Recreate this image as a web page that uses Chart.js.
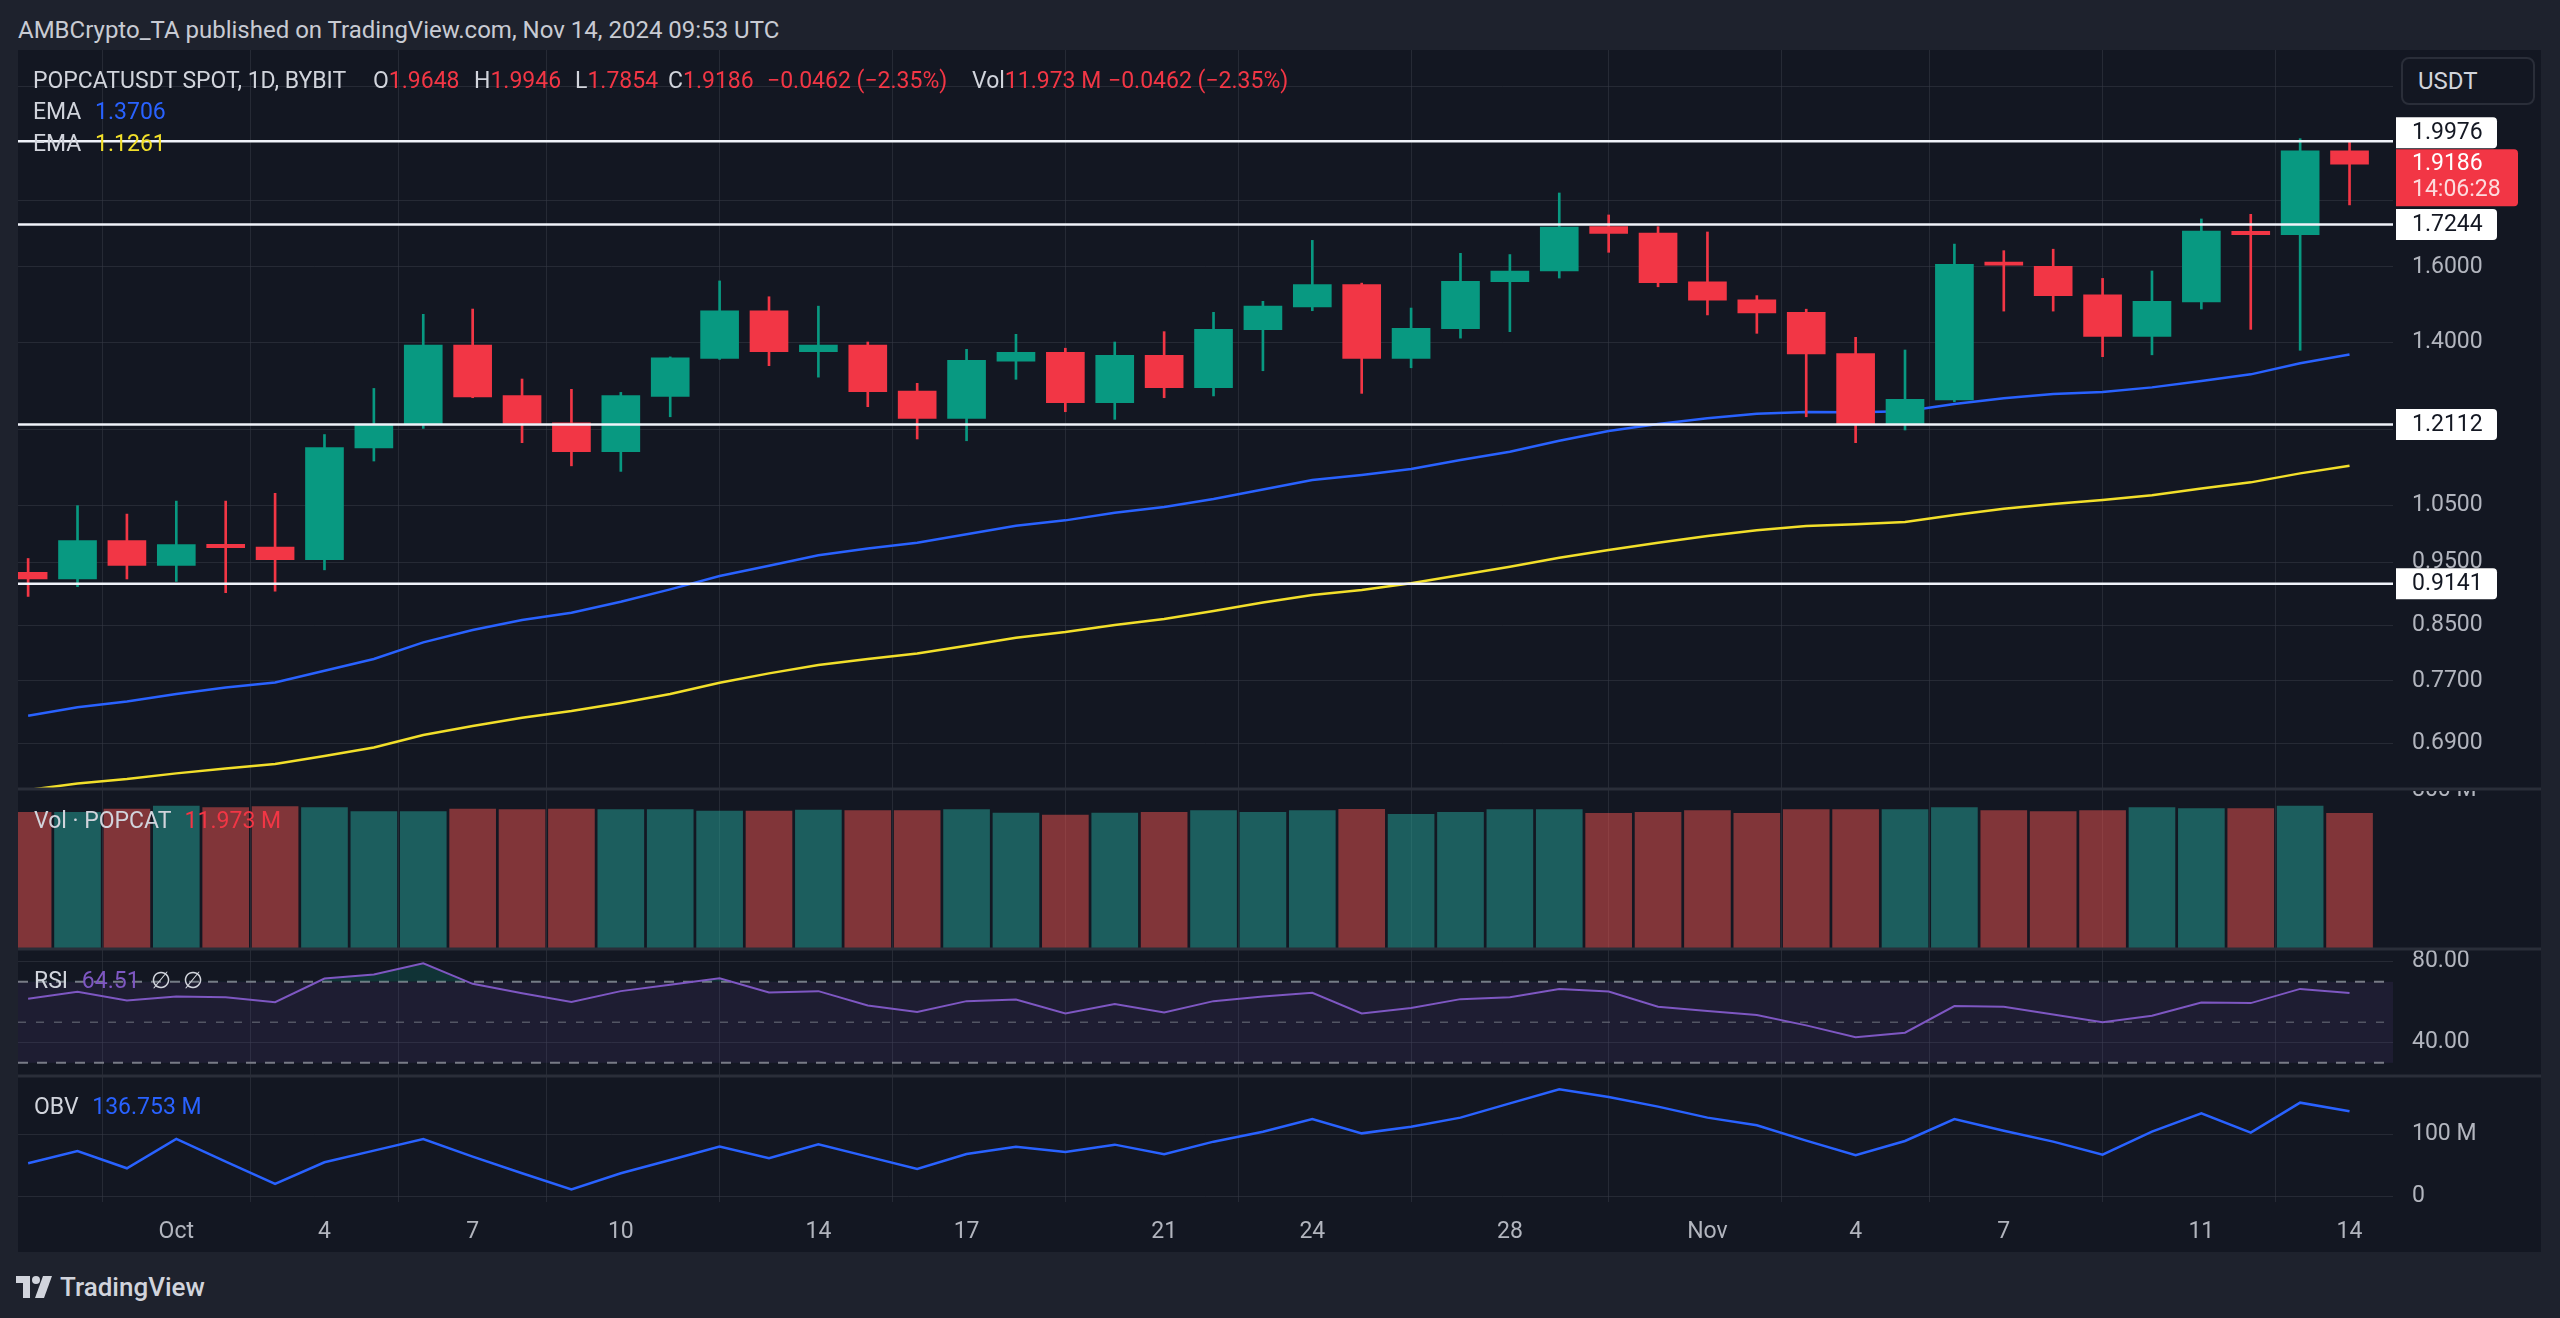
<!DOCTYPE html>
<html>
<head>
<meta charset="utf-8">
<script src="https://cdn.jsdelivr.net/npm/chart.js@4.4.1/dist/chart.umd.min.js"></script>
<style>
html, body { margin: 0; padding: 0; background: #1e222d; }
body { width: 2560px; height: 1318px; position: relative; overflow: hidden; font-family: Roboto, 'Liberation Sans', sans-serif; }
#head { position: absolute; left: 18px; top: 30px; transform: translateY(-50%); color: #c8cbd3; font-size: 24px; white-space: nowrap; }
#panel { position: absolute; left: 18px; top: 50px; width: 2523px; height: 1202px; background: #131722; }
#c { position: absolute; left: 0; top: 0; }
.lg { position: absolute; font-size: 23px; color: #d1d4dc; white-space: nowrap; transform: translateY(-50%); line-height: 1; }
.red { color: #f23645; }
#usdt { position: absolute; left: 2383px; top: 7px; height: 44px; border: 2px solid #2a2e39; border-radius: 8px;
        background: #131722; color: #d1d4dc; font-size: 24px; line-height: 44px; padding-left: 15px; box-sizing: content-box; width: 115px; }
#logo { position: absolute; left: 16px; top: 1287px; transform: translateY(-50%); display: flex; align-items: center; gap: 8px;
        color: #d1d4dc; font-size: 26px; font-weight: 500; }
</style>
</head>
<body>
<div id="head">AMBCrypto_TA published on TradingView.com, Nov 14, 2024 09:53 UTC</div>
<div id="panel">
  <canvas id="c" width="2523" height="1202" style="width:2523px;height:1202px"></canvas>
  <div class="lg" style="left:15px;top:30px">POPCATUSDT SPOT, 1D, BYBIT</div>
  <div class="lg" style="left:355px;top:30px">O<span class="red">1.9648</span></div>
  <div class="lg" style="left:456px;top:30px">H<span class="red">1.9946</span></div>
  <div class="lg" style="left:557px;top:30px">L<span class="red">1.7854</span></div>
  <div class="lg" style="left:650px;top:30px">C<span class="red">1.9186</span></div>
  <div class="lg red" style="left:749px;top:30px">−0.0462 (−2.35%)</div>
  <div class="lg" style="left:954px;top:30px">Vol<span class="red">11.973 M</span></div>
  <div class="lg red" style="left:1090px;top:30px">−0.0462 (−2.35%)</div>
  <div class="lg" style="left:15px;top:61px">EMA <span style="color:#2962ff;margin-left:8px">1.3706</span></div>
  <div class="lg" style="left:15px;top:93px">EMA <span style="color:#f2df2a;margin-left:8px">1.1261</span></div>
  <div class="lg" style="left:16px;top:770px">Vol · POPCAT <span class="red" style="margin-left:8px">11.973 M</span></div>
  <div class="lg" style="left:16px;top:930px">RSI <span style="color:#7e57c2;margin-left:8px">64.51</span> <span style="margin-left:6px">∅</span> <span style="margin-left:6px">∅</span></div>
  <div class="lg" style="left:16px;top:1056px">OBV <span style="color:#2962ff;margin-left:8px">136.753 M</span></div>
  <div id="usdt">USDT</div>
</div>
<div id="logo">
  <svg width="36" height="22" viewBox="0 0 36 22"><path d="M0 0h14v22h-7v-15h-7z" fill="#d1d4dc"/><circle cx="20" cy="4" r="4" fill="#d1d4dc"/><path d="M27 0h9l-8 22h-9z" fill="#d1d4dc"/></svg>
  <span>TradingView</span>
</div>

<script>
// daily candles, Sep 28 -> Nov 14 2024
const dates = ['Sep 28','Sep 29','Sep 30','Oct 1','Oct 2','Oct 3','Oct 4','Oct 5','Oct 6','Oct 7','Oct 8','Oct 9',
  'Oct 10','Oct 11','Oct 12','Oct 13','Oct 14','Oct 15','Oct 16','Oct 17','Oct 18','Oct 19','Oct 20','Oct 21',
  'Oct 22','Oct 23','Oct 24','Oct 25','Oct 26','Oct 27','Oct 28','Oct 29','Oct 30','Oct 31','Nov 1','Nov 2',
  'Nov 3','Nov 4','Nov 5','Nov 6','Nov 7','Nov 8','Nov 9','Nov 10','Nov 11','Nov 12','Nov 13','Nov 14'];

const openP  = [0.933, 0.922, 0.9865, 0.9445, 0.9802, 0.9755, 0.954, 1.162, 1.212, 1.394, 1.2746, 1.215,
  1.1545, 1.273, 1.361, 1.481, 1.3777, 1.394, 1.285, 1.2246, 1.355, 1.376, 1.259, 1.3687,
  1.2928, 1.432, 1.491, 1.5507, 1.3615, 1.435, 1.559, 1.5887, 1.718, 1.699, 1.5585, 1.51,
  1.477, 1.373, 1.2124, 1.265, 1.610, 1.602, 1.523, 1.4155, 1.504, 1.704, 1.694, 1.9648];
const highP  = [0.956, 1.0495, 1.034, 1.058, 1.058, 1.0726, 1.190, 1.291, 1.4716, 1.4854, 1.3127, 1.289,
  1.282, 1.365, 1.561, 1.518, 1.493, 1.4013, 1.3027, 1.3834, 1.4205, 1.386, 1.4013, 1.4272,
  1.4768, 1.5058, 1.677, 1.555, 1.488, 1.639, 1.6355, 1.8234, 1.754, 1.718, 1.702, 1.521,
  1.485, 1.413, 1.3817, 1.666, 1.6467, 1.651, 1.568, 1.5887, 1.7416, 1.756, 2.007, 1.9946];
const lowP   = [0.894, 0.9096, 0.922, 0.918, 0.900, 0.9023, 0.937, 1.1356, 1.203, 1.270, 1.173, 1.126,
  1.115, 1.228, 1.359, 1.344, 1.317, 1.250, 1.1807, 1.177, 1.312, 1.239, 1.2224, 1.270,
  1.274, 1.332, 1.481, 1.2798, 1.339, 1.411, 1.4272, 1.569, 1.642, 1.545, 1.47, 1.423,
  1.228, 1.173, 1.1996, 1.261, 1.480, 1.48, 1.3655, 1.37, 1.4855, 1.433, 1.381, 1.7854];
const closeP = [0.922, 0.9865, 0.9445, 0.9796, 0.9744, 0.954, 1.163, 1.2124, 1.394, 1.272, 1.2137, 1.1545,
  1.2746, 1.363, 1.481, 1.3777, 1.394, 1.2837, 1.2246, 1.3566, 1.376, 1.259, 1.3687, 1.2928,
  1.433, 1.493, 1.5507, 1.3615, 1.4356, 1.56, 1.5887, 1.717, 1.698, 1.556, 1.509, 1.475,
  1.372, 1.2124, 1.2663, 1.6075, 1.605, 1.521, 1.4155, 1.5058, 1.705, 1.694, 1.9648, 1.9186];

const emaBlue = [0.724, 0.735, 0.7427, 0.7524, 0.7613, 0.768, 0.784, 0.8004, 0.8243, 0.8424, 0.8574, 0.8686,
  0.8857, 0.9052, 0.9268, 0.9438, 0.9613, 0.9732, 0.983, 0.998, 1.013, 1.0226, 1.0365, 1.047,
  1.062, 1.080, 1.098, 1.108, 1.1197, 1.1377, 1.1545, 1.177, 1.1975, 1.2124, 1.2246, 1.2347,
  1.2384, 1.2376, 1.2398, 1.256, 1.2686, 1.2784, 1.2829, 1.2934, 1.308, 1.3235, 1.3495, 1.3706];
const emaYellow = [0.635, 0.6425, 0.6475, 0.654, 0.6598, 0.6649, 0.6743, 0.6847, 0.6998, 0.711, 0.7215, 0.7301,
  0.7405, 0.7524, 0.7676, 0.7804, 0.7919, 0.8004, 0.8084, 0.8195, 0.8311, 0.8395, 0.85, 0.859,
  0.8712, 0.8846, 0.8962, 0.9042, 0.9149, 0.9285, 0.9422, 0.9573, 0.9704, 0.983, 0.9947, 1.0047,
  1.0125, 1.0154, 1.0196, 1.0323, 1.044, 1.0525, 1.06, 1.0688, 1.082, 1.0936, 1.1111, 1.1261];

// volume pane (millions, as drawn on the pane scale)
const volM = [688, 688, 704, 719, 711, 716, 711, 691, 691, 704, 701, 704,
  701, 701, 694, 694, 699, 696, 696, 701, 684, 674, 684, 688,
  696, 688, 696, 703, 678, 688, 701, 701, 683, 688, 696, 683,
  701, 701, 701, 711, 696, 691, 696, 711, 706, 706, 719, 683];

const rsi = [61.6, 65.05, 60.8, 62.76, 62.43, 59.97, 71.6, 73.57, 79.14, 69.0, 64.4, 60.0,
  65.4, 68.5, 71.77, 64.7, 65.4, 58.34, 55.06, 60.46, 61.28, 54.4, 59.0, 54.9,
  60.46, 62.76, 64.56, 54.4, 57.03, 61.45, 62.43, 66.5, 65.2, 57.68, 55.55, 53.6,
  48.5, 42.6, 44.9, 58.0, 57.68, 53.9, 50.0, 53.26, 59.8, 59.48, 66.5, 64.51];

const obvM = [53.5, 73.2, 45.5, 92.5, 56.2, 20.4, 55.1, 73.8, 92.5, 64.2, 37.5, 11.8,
  37.5, 58.8, 80.2, 61.5, 83.9, 64.2, 44.4, 68.4, 80.2, 71.6, 83.4, 67.9,
  88.2, 104.2, 124.5, 101.5, 112.2, 126.7, 149.6, 172.1, 159.8, 144.3, 126.7, 114.4,
  89.8, 66.3, 89.3, 124.5, 105.8, 88.2, 67.4, 104.2, 133.6, 102.6, 150.7, 136.753];

const levels = [1.9976, 1.7244, 1.2112, 0.9141];
const lastPrice = 1.9186;
const countdown = '14:06:28';

const priceTicks = [0.69, 0.77, 0.85, 0.95, 1.05, 1.2, 1.4, 1.6, 1.8, 2.0, 2.2];
const volTickValue = 800;
const rsiTicks = [40, 80];
const rsiBand = [30, 50, 70];
const obvTicks = [0, 100];
const timeTicks = [3, 6, 9, 12, 16, 19, 23, 26, 30, 34, 37, 40, 44, 47];
const timeLabels = ['Oct', '4', '7', '10', '14', '17', '21', '24', '28', 'Nov', '4', '7', '11', '14'];

const UP = '#089981', DOWN = '#f23645';
const VOL_UP = 'rgba(38,166,154,0.5)', VOL_DOWN = 'rgba(239,83,80,0.5)';
const GRID = 'rgba(54,58,70,0.55)';
const AXIS_TXT = '#b2b5be';
const FONT = 'Roboto, "Liberation Sans", sans-serif';

Chart.defaults.font.family = FONT;
Chart.defaults.font.size = 23;

const isUp = i => closeP[i] >= openP[i];
const pts = arr => arr.map((v, i) => ({ x: i, y: v }));
// fixed axis width, and no label padding pushed into the pane layout
const axisWidth = s => { s.width = 148; s.paddingTop = 0; s.paddingBottom = 0; };

const paneDecor = {
  id: 'paneDecor',
  beforeDatasetsDraw(chart) {
    const { ctx, chartArea } = chart;
    const r = chart.scales.yRsi;
    const y30 = r.getPixelForValue(rsiBand[0]);
    const y50 = r.getPixelForValue(rsiBand[1]);
    const y70 = r.getPixelForValue(rsiBand[2]);
    ctx.save();
    ctx.fillStyle = 'rgba(126,87,194,0.1)';
    ctx.fillRect(chartArea.left, y70, chartArea.right - chartArea.left, y30 - y70);
    ctx.strokeStyle = '#787b86';
    ctx.lineWidth = 2;
    ctx.setLineDash([10, 9]);
    [y70, y30].forEach(y => {
      ctx.beginPath(); ctx.moveTo(chartArea.left, y); ctx.lineTo(chartArea.right, y); ctx.stroke();
    });
    ctx.strokeStyle = 'rgba(120,123,134,0.6)';
    ctx.lineWidth = 1.5;
    ctx.setLineDash([8, 10]);
    ctx.beginPath(); ctx.moveTo(chartArea.left, y50); ctx.lineTo(chartArea.right, y50); ctx.stroke();
    ctx.restore();
  },
  afterDatasetsDraw(chart) {
    const { ctx, chartArea } = chart;
    const p = chart.scales.yPrice;
    ctx.save();
    ctx.strokeStyle = '#f0f3fa';
    ctx.lineWidth = 2.5;
    levels.forEach(v => {
      const y = p.getPixelForValue(v);
      ctx.beginPath(); ctx.moveTo(chartArea.left, y); ctx.lineTo(chartArea.right, y); ctx.stroke();
    });
    ctx.restore();
  },
  afterDraw(chart) {
    const { ctx, chartArea, scales } = chart;
    ctx.save();
    // pane separators
    ctx.strokeStyle = '#2a2e39';
    ctx.lineWidth = 3;
    [scales.yVol.top, scales.yRsi.top, scales.yObv.top].forEach(y => {
      ctx.beginPath(); ctx.moveTo(0, y); ctx.lineTo(chart.width, y); ctx.stroke();
    });

    // volume axis label, clipped by its pane
    ctx.save();
    ctx.beginPath();
    ctx.rect(chartArea.right, scales.yVol.top + 2, chart.width - chartArea.right, scales.yVol.bottom - scales.yVol.top);
    ctx.clip();
    ctx.fillStyle = AXIS_TXT;
    ctx.font = '23px ' + FONT;
    ctx.textBaseline = 'middle';
    ctx.fillText(volTickValue + ' M', chartArea.right + 19, scales.yVol.getPixelForValue(volTickValue));
    ctx.restore();

    // price tags
    const tagX = chartArea.right + 3;
    const p = scales.yPrice;
    const ly = p.getPixelForValue(lastPrice);
    const redTop = ly - 15, redH = 57;
    ctx.font = '23px ' + FONT;
    ctx.textBaseline = 'middle';
    levels.forEach(v => {
      const yc = p.getPixelForValue(v);
      let top = yc - 15.5;
      if (top < redTop + redH && top + 31 > redTop) {
        top = yc < ly ? redTop - 32 : redTop + redH + 1;
      }
      ctx.fillStyle = '#ffffff';
      ctx.beginPath(); ctx.roundRect(tagX, top, 101, 31, [0, 4, 4, 0]); ctx.fill();
      ctx.fillStyle = '#131722';
      ctx.fillText(v.toFixed(4), tagX + 16, top + 16);
    });
    ctx.fillStyle = DOWN;
    ctx.beginPath(); ctx.roundRect(tagX, redTop, 122, redH, [0, 4, 4, 0]); ctx.fill();
    ctx.fillStyle = '#ffffff';
    ctx.fillText(lastPrice.toFixed(4), tagX + 16, ly);
    ctx.fillStyle = 'rgba(255,255,255,0.82)';
    ctx.fillText(countdown, tagX + 16, ly + 26);
    ctx.restore();
  }
};

new Chart(document.getElementById('c'), {
  type: 'bar',
  data: {
    datasets: [
      {
        label: 'wick', type: 'bar', xAxisID: 'x', yAxisID: 'yPrice', order: 2,
        data: dates.map((d, i) => ({ x: i, y: [lowP[i], highP[i]] })),
        backgroundColor: dates.map((d, i) => isUp(i) ? UP : DOWN),
        barThickness: 2, grouped: false
      },
      {
        label: 'body', type: 'bar', xAxisID: 'x', yAxisID: 'yPrice', order: 1,
        data: dates.map((d, i) => ({ x: i, y: [openP[i], closeP[i]] })),
        backgroundColor: dates.map((d, i) => isUp(i) ? UP : DOWN),
        barThickness: 38, minBarLength: 3, grouped: false
      },
      {
        label: 'EMA', type: 'line', xAxisID: 'x', yAxisID: 'yPrice', order: 3,
        data: pts(emaBlue), borderColor: '#2962ff', borderWidth: 2.5, pointRadius: 0, tension: 0
      },
      {
        label: 'EMA', type: 'line', xAxisID: 'x', yAxisID: 'yPrice', order: 3,
        data: pts(emaYellow), borderColor: '#f2df2a', borderWidth: 2.5, pointRadius: 0, tension: 0
      },
      {
        label: 'Vol', type: 'bar', xAxisID: 'x', yAxisID: 'yVol', order: 4,
        data: pts(volM),
        backgroundColor: dates.map((d, i) => isUp(i) ? VOL_UP : VOL_DOWN),
        barThickness: 46, grouped: false
      },
      {
        label: 'RSI', type: 'line', xAxisID: 'x', yAxisID: 'yRsi', order: 3,
        data: pts(rsi), borderColor: '#7e57c2', borderWidth: 2, pointRadius: 0, tension: 0,
        fill: { target: { value: 70 }, above: 'rgba(8,153,129,0.22)', below: 'rgba(0,0,0,0)' }
      },
      {
        label: 'OBV', type: 'line', xAxisID: 'x', yAxisID: 'yObv', order: 3,
        data: pts(obvM), borderColor: '#2962ff', borderWidth: 2.5, pointRadius: 0, tension: 0
      }
    ]
  },
  options: {
    responsive: false,
    animation: false,
    layout: { padding: 0, autoPadding: false },
    plugins: { legend: { display: false }, tooltip: { enabled: false } },
    scales: {
      x: {
        type: 'linear', position: 'bottom', min: -0.205, max: 47.88, bounds: 'data', offset: false,
        afterBuildTicks: s => { s.ticks = timeTicks.map(v => ({ value: v })); },
        ticks: { autoSkip: false, maxRotation: 0, color: AXIS_TXT, padding: 16, callback: (v, i) => timeLabels[i] },
        grid: { color: GRID, drawTicks: false },
        border: { display: false },
        afterFit: s => { s.height = 50; s.paddingLeft = 0; s.paddingRight = 0; }
      },
      yPrice: {
        type: 'logarithmic', position: 'right', stack: 'panes', stackWeight: 739, weight: 1,
        min: 0.6362, max: 2.3474, bounds: 'data',
        afterBuildTicks: s => { s.ticks = priceTicks.map(v => ({ value: v })); },
        ticks: { autoSkip: false, color: AXIS_TXT, padding: 19, callback: v => Number(v).toFixed(4) },
        grid: { color: GRID, drawTicks: false },
        border: { display: false },
        afterFit: axisWidth
      },
      yVol: {
        type: 'linear', position: 'right', stack: 'panes', stackWeight: 160, weight: 2,
        min: 0, max: 805, bounds: 'data',
        ticks: { display: false },
        grid: { display: false },
        border: { display: false },
        afterFit: axisWidth
      },
      yRsi: {
        type: 'linear', position: 'right', stack: 'panes', stackWeight: 127, weight: 3,
        min: 23.5, max: 86.2, bounds: 'data',
        afterBuildTicks: s => { s.ticks = rsiTicks.map(v => ({ value: v })); },
        ticks: { autoSkip: false, color: AXIS_TXT, padding: 19, callback: v => Number(v).toFixed(2) },
        grid: { color: GRID, drawTicks: false },
        border: { display: false },
        afterFit: axisWidth
      },
      yObv: {
        type: 'linear', position: 'right', stack: 'panes', stackWeight: 126, weight: 4,
        min: -8.5, max: 193.4, bounds: 'data',
        afterBuildTicks: s => { s.ticks = obvTicks.map(v => ({ value: v })); },
        ticks: { autoSkip: false, color: AXIS_TXT, padding: 19, callback: v => v === 0 ? '0' : v + ' M' },
        grid: { color: GRID, drawTicks: false },
        border: { display: false },
        afterFit: axisWidth
      }
    }
  },
  plugins: [paneDecor]
});
</script>
</body>
</html>
